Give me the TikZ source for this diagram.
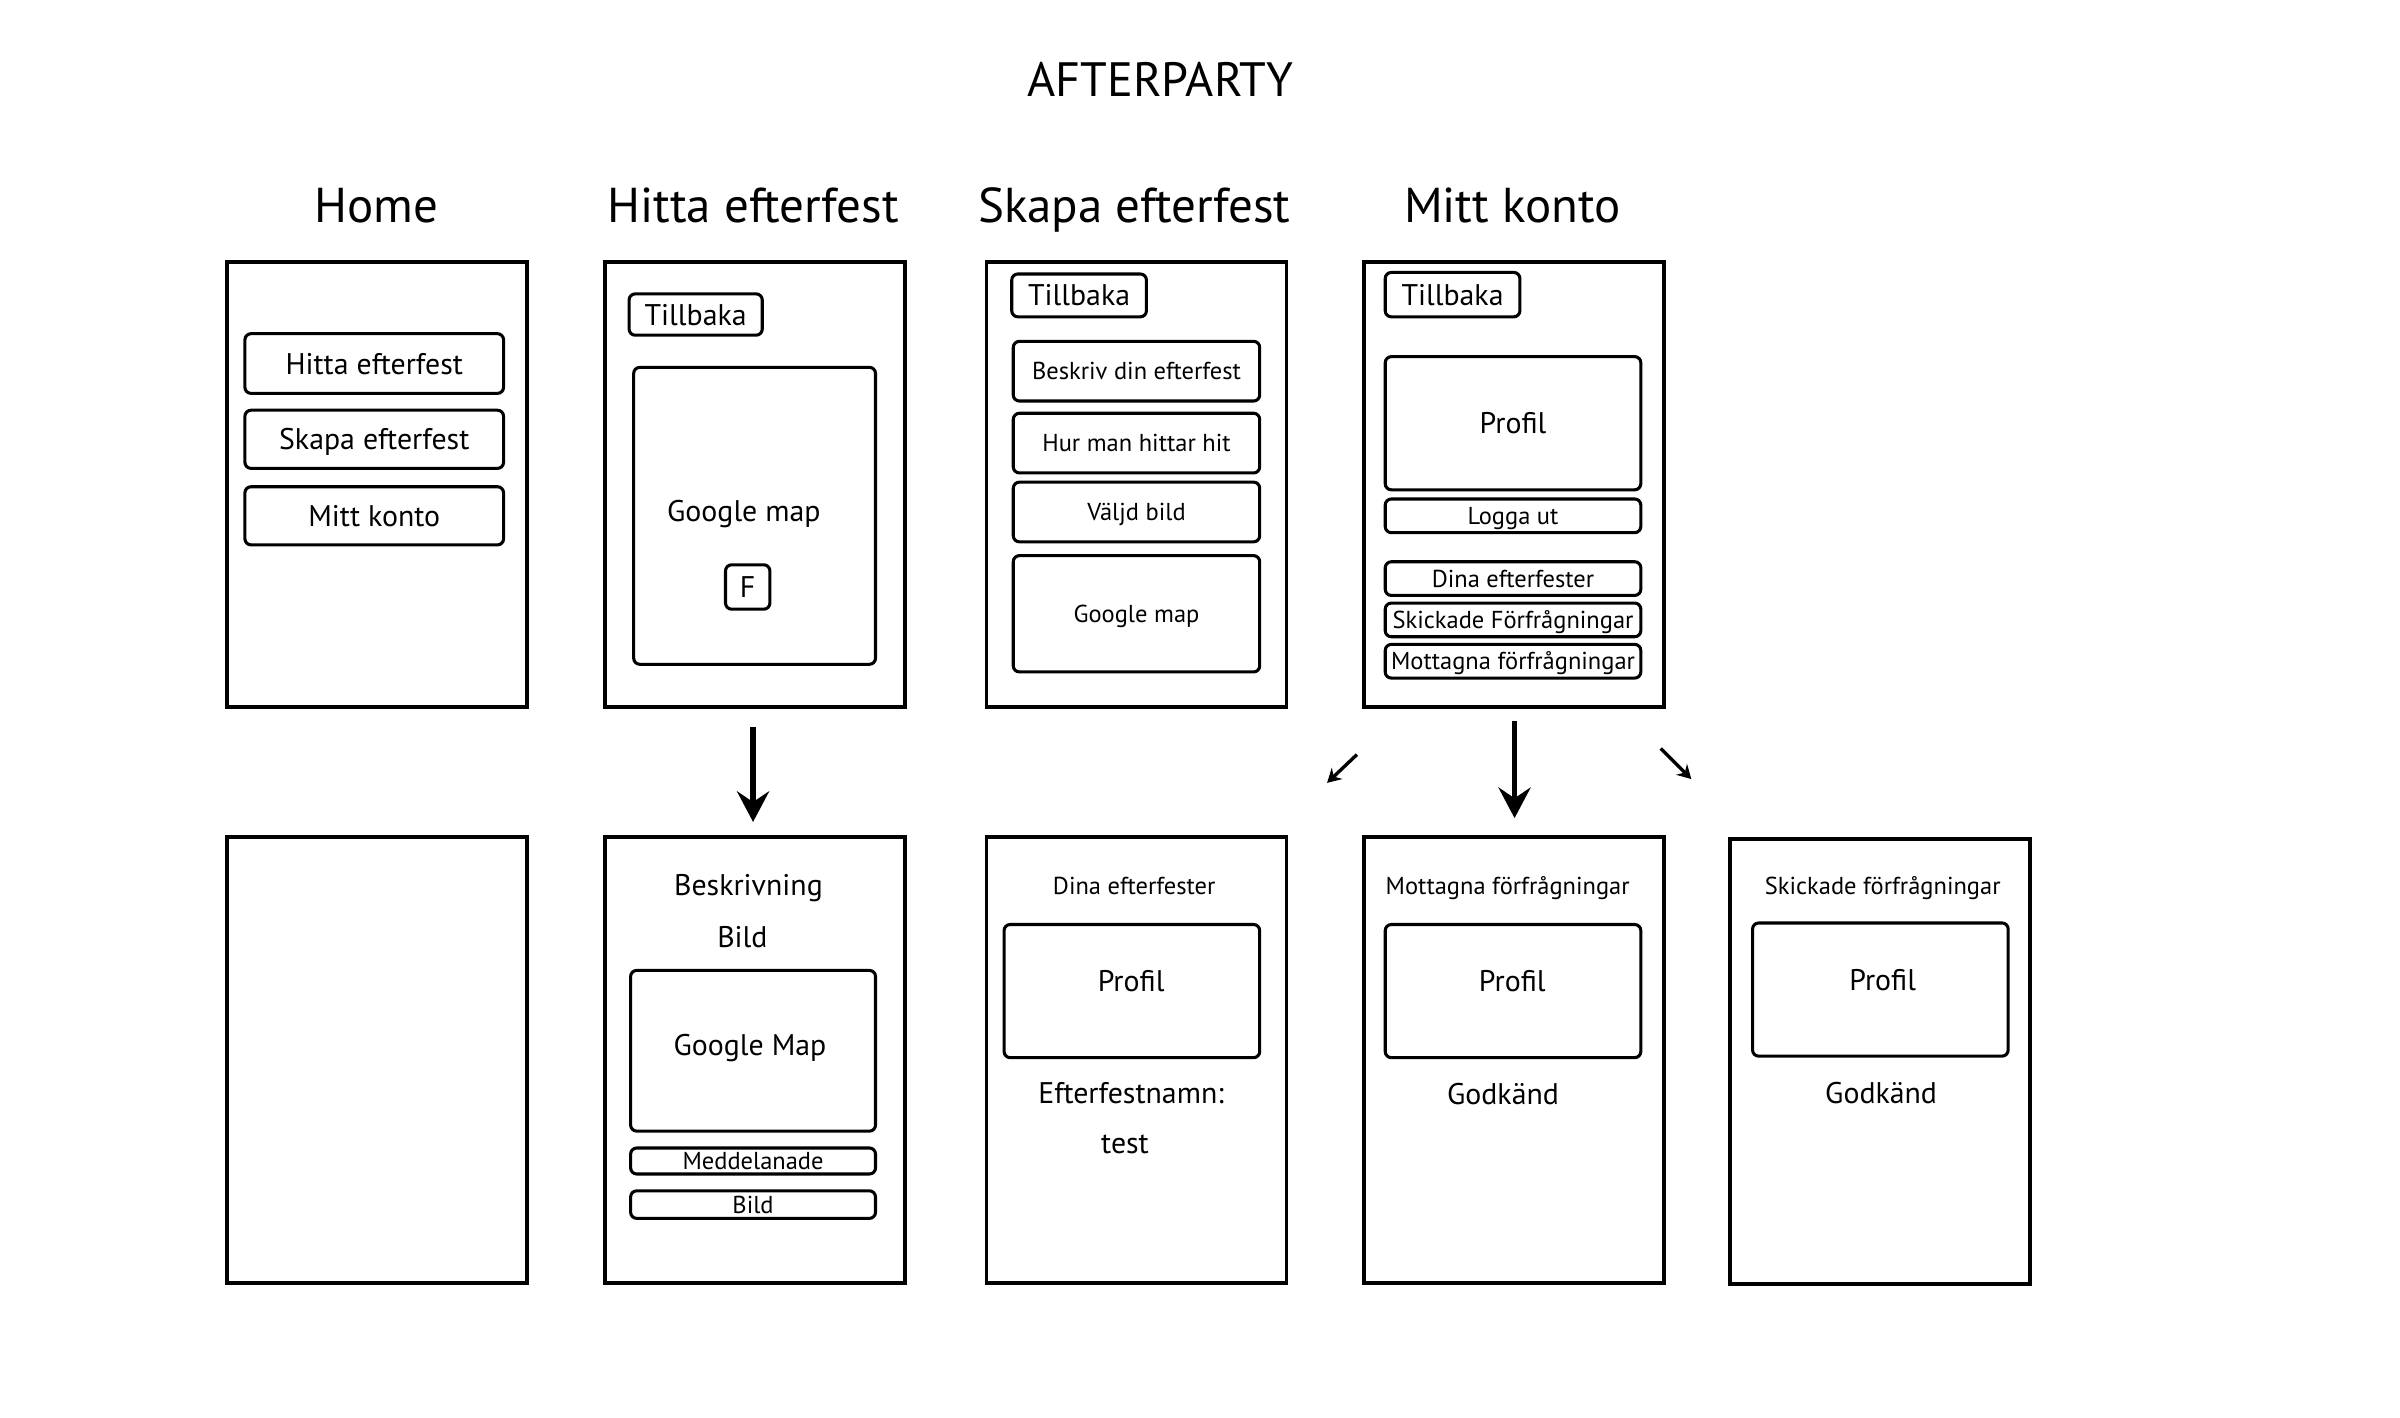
\documentclass[tikz,border=0pt]{standalone}
\usepackage{fontspec}
\setmainfont{PT Sans}
\usetikzlibrary{arrows.meta}
\newcommand{\fsz}[1]{\fontsize{#1}{#1}\selectfont}
\tikzset{
  frame/.style={draw, line width=2.6pt, minimum width=196pt, minimum height=291pt, inner sep=0pt},
  btn/.style={draw, line width=2pt, rounded corners=4pt, inner sep=0pt},
  lg/.style={font=\fsz{32}, text height=22.5pt, text depth=0pt},
  md/.style={font=\fsz{19.5}, text height=13.7pt, text depth=0pt},
  sm/.style={font=\fsz{16}, text height=11.2pt, text depth=0pt},
  flow/.style={line width=3.4pt, -{Stealth[length=20pt,width=21pt,inset=7pt]}},
  hint/.style={line width=2.2pt, -{Stealth[length=9pt,width=10pt,inset=3pt]}},
}
\begin{document}
\begin{tikzpicture}[x=1pt,y=1pt,yscale=-1,xscale=1]
\useasboundingbox (0,0) rectangle (1568,926);

% Title
\node[lg, font=\fsz{31.5}] (title) at (758,52) {AFTERPARTY};

% Column headers
\node[lg] (hHome) at (246,134) {Home};
\node[lg] (hHitta) at (492,134) {Hitta efterfest};
\node[lg] (hSkapa) at (741,134) {Skapa efterfest};
\node[lg] (hMitt) at (988,134) {Mitt konto};

% Top row frames
\node[frame] (fHome) at (246,316.5) {};
\node[frame] (fHitta) at (493.5,316.5) {};
\node[frame] (fSkapa) at (742.5,316.5) {};
\node[frame] (fMitt) at (989,316.5) {};

% Home
\node[btn, md, minimum width=169pt, minimum height=39pt] (bHitta) at (244.5,237.5) {Hitta efterfest};
\node[btn, md, minimum width=169pt, minimum height=38pt] (bSkapa) at (244.5,287) {Skapa efterfest};
\node[btn, md, minimum width=169pt, minimum height=38pt] (bMitt) at (244.5,337) {Mitt konto};

% Hitta efterfest
\node[btn, md, minimum width=87pt, minimum height=27pt] (hitBack) at (454.5,205.5) {Tillbaka};
\node[btn, minimum width=158pt, minimum height=194pt] (hitMap) at (493,337) {};
\node[md] (hitMapTxt) at (486,334) {Google map};
\node[btn, md, minimum width=29pt, minimum height=29pt] (hitF) at (488.5,383.5) {F};

% Skapa efterfest
\node[btn, md, minimum width=88pt, minimum height=28pt] (skaBack) at (705,193) {Tillbaka};
\node[btn, sm, minimum width=161pt, minimum height=39pt] (skaDesc) at (742.5,242.5) {Beskriv din efterfest};
\node[btn, sm, minimum width=161pt, minimum height=39pt] (skaWay) at (742.5,289.5) {Hur man hittar hit};
\node[btn, sm, minimum width=161pt, minimum height=39pt] (skaPic) at (742.5,334.5) {Väljd bild};
\node[btn, sm, minimum width=161pt, minimum height=76pt] (skaMap) at (742.5,401) {Google map};

% Mitt konto
\node[btn, md, minimum width=88pt, minimum height=29pt] (mitBack) at (949,192.5) {Tillbaka};
\node[btn, md, minimum width=167pt, minimum height=87pt] (mitProf) at (988.5,276.5) {Profil};
\node[btn, sm, minimum width=167pt, minimum height=22pt] (mitOut) at (988.5,337) {Logga ut};
\node[btn, sm, minimum width=167pt, minimum height=22pt] (mitDina) at (988.5,378) {Dina efterfester};
\node[btn, sm, minimum width=167pt, minimum height=22pt] (mitSent) at (988.5,405) {Skickade Förfrågningar};
\node[btn, sm, minimum width=167pt, minimum height=22pt] (mitRecv) at (988.5,432) {Mottagna förfrågningar};

% Arrows
\coordinate (aHitS) at (492,475);
\coordinate (aHitE) at (492,537);
\coordinate (aMitS) at (989.5,471);
\coordinate (aMitE) at (989.5,534.5);
\coordinate (aLS) at (886.5,493);
\coordinate (aLE) at (867,511.5);
\coordinate (aRS) at (1085,489);
\coordinate (aRE) at (1105,509);
\draw[flow] (aHitS) -- (aHitE);
\draw[flow] (aMitS) -- (aMitE);
\draw[hint] (aLS) -- (aLE);
\draw[hint] (aRS) -- (aRE);

% Bottom row frames
\node[frame] (gBlank) at (246,692.5) {};
\node[frame] (gHitta) at (493.5,692.5) {};
\node[frame] (gDina) at (742.5,692.5) {};
\node[frame] (gRecv) at (989,692.5) {};
\node[frame] (gSent) at (1228,693.5) {};

% Hitta detail
\node[md] (detDesc) at (489,578) {Beskrivning};
\node[md] (detPic) at (485,612) {Bild};
\node[btn, minimum width=160pt, minimum height=105pt] (detMap) at (492,686.5) {};
\node[md] (detMapTxt) at (490,683) {Google Map};
\node[btn, sm, minimum width=160pt, minimum height=17pt] (detMsg) at (492,758.5) {Meddelanade};
\node[btn, sm, minimum width=160pt, minimum height=18pt] (detImg) at (492,787) {Bild};

% Dina efterfester
\node[sm] (dinHead) at (741,579) {Dina efterfester};
\node[btn, minimum width=167pt, minimum height=87pt] (dinProf) at (739.5,647.5) {};
\node[md] (dinProfTxt) at (739,641) {Profil};
\node[md] (dinName) at (739,714) {Efterfestnamn:};
\node[md] (dinTest) at (735,747) {test};

% Mottagna
\node[sm] (recHead) at (985,579) {Mottagna förfrågningar};
\node[btn, minimum width=167pt, minimum height=87pt] (recProf) at (988.5,647.5) {};
\node[md] (recProfTxt) at (988,641) {Profil};
\node[md] (recOk) at (982,715) {Godkänd};

% Skickade
\node[sm] (senHead) at (1230,579) {Skickade förfrågningar};
\node[btn, minimum width=167pt, minimum height=87pt] (senProf) at (1228.5,646.5) {};
\node[md] (senProfTxt) at (1230,640) {Profil};
\node[md] (senOk) at (1229,714) {Godkänd};

\end{tikzpicture}
\end{document}
